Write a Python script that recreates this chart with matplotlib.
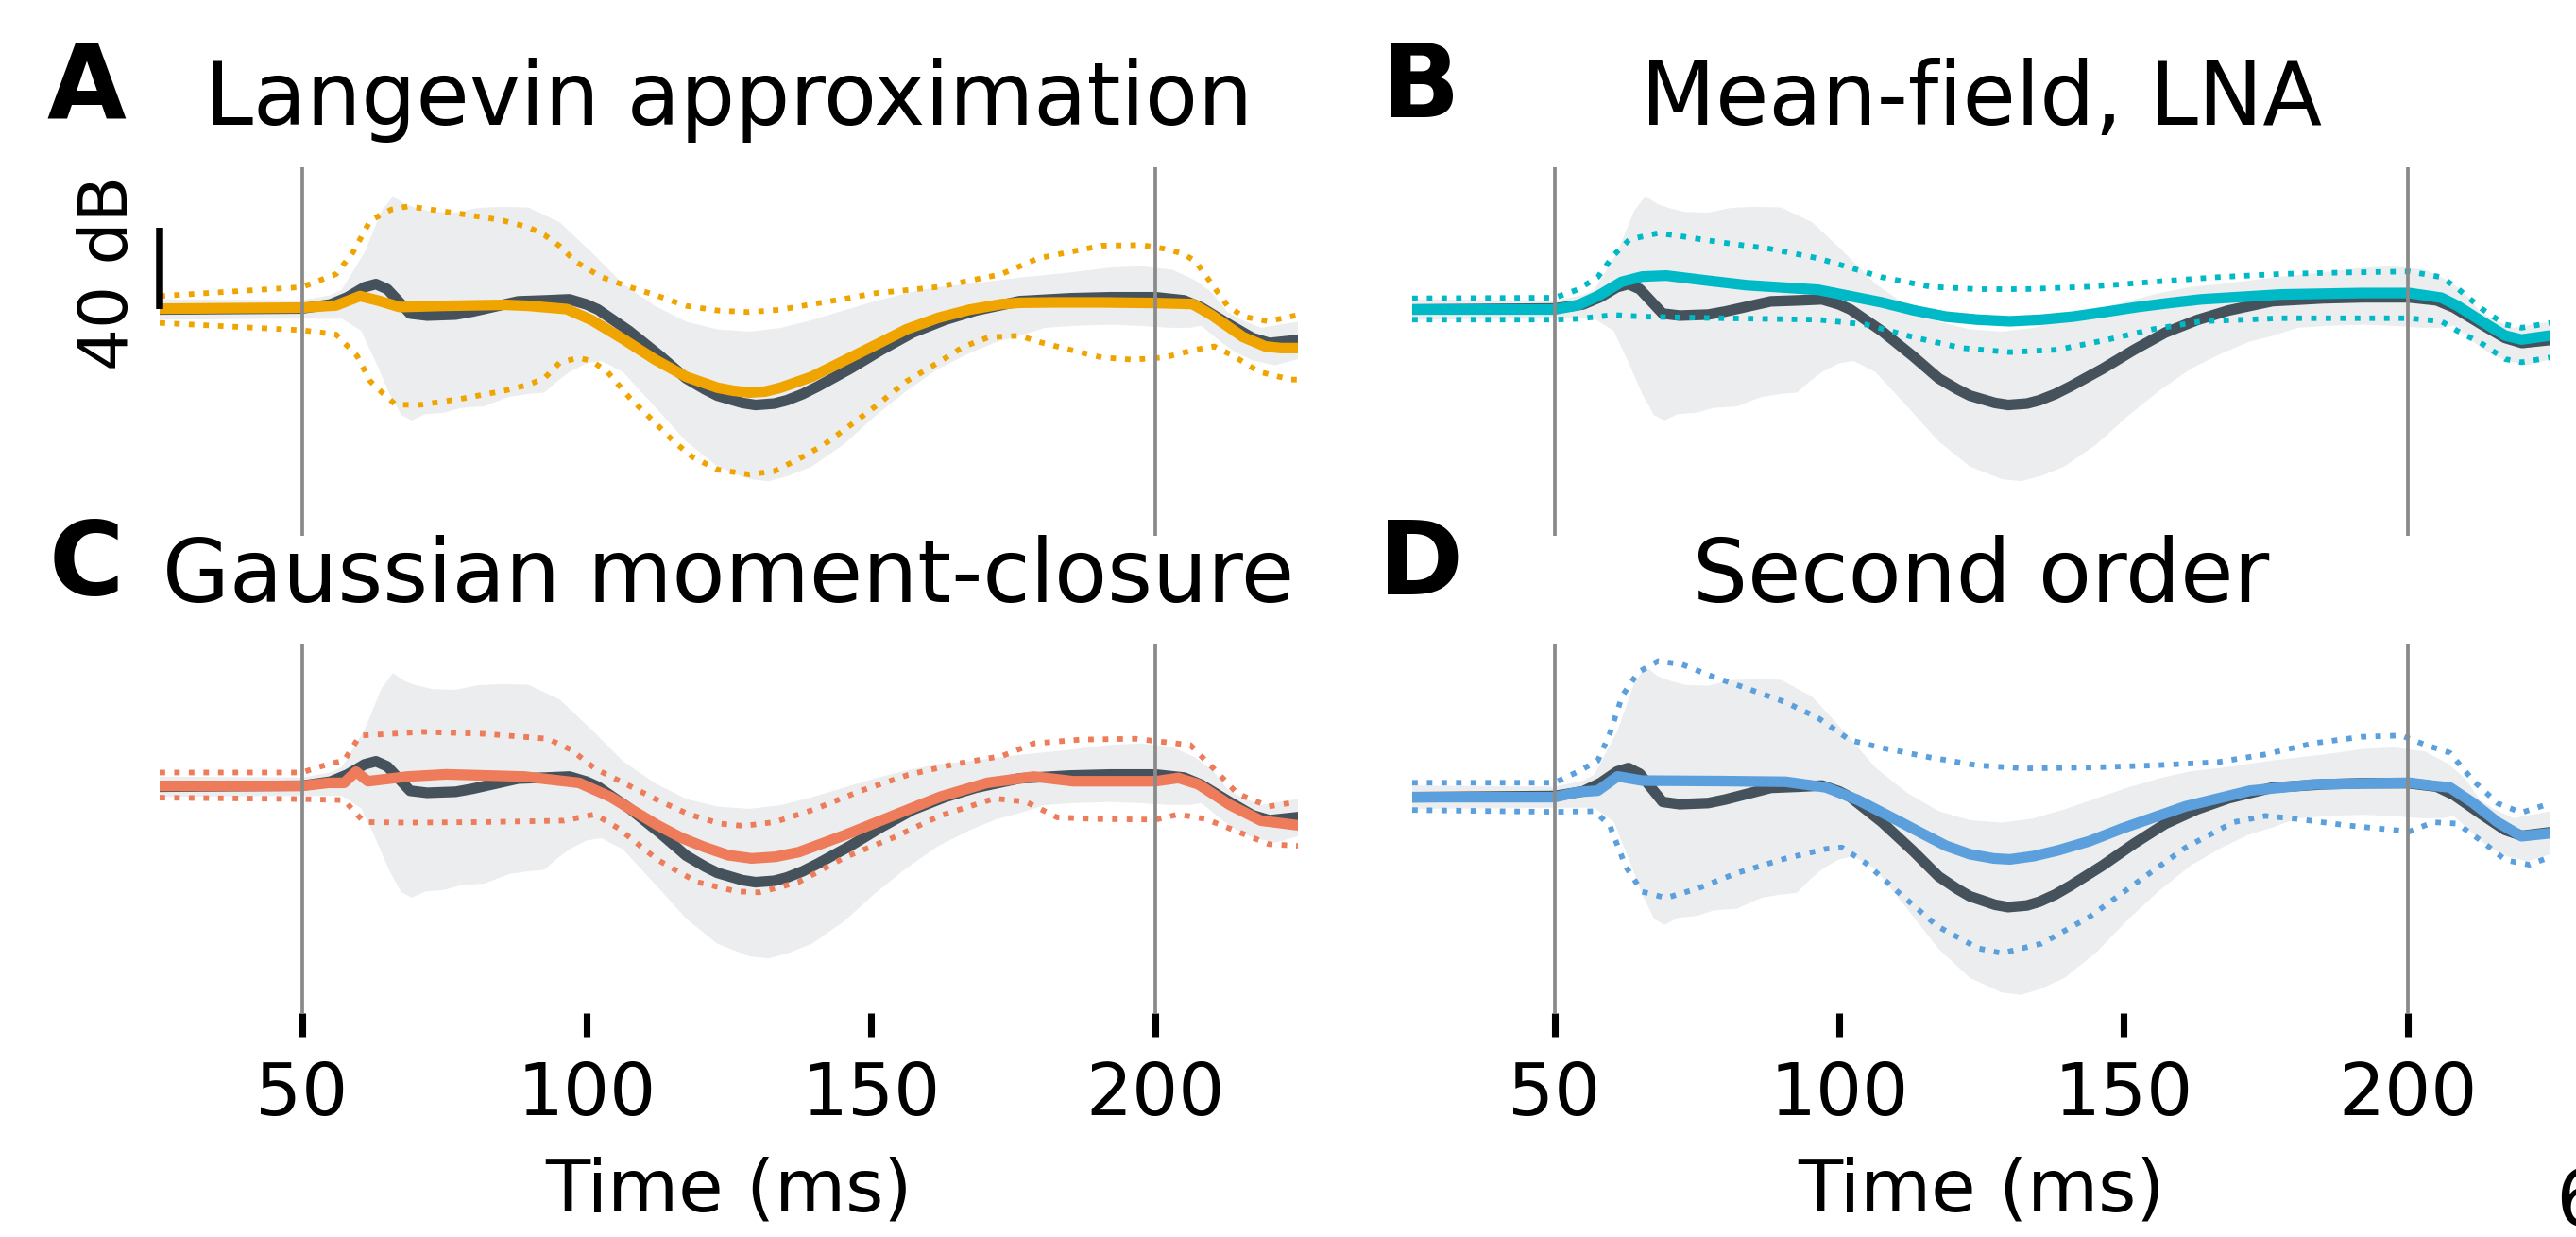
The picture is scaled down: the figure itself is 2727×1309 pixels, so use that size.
import numpy as np
import matplotlib.pyplot as plt

# time axis (ms) and dB values, relative to baseline
stim_times = [50, 200]
xticks = [50, 100, 150, 200]

# shared data: spread (grey band) and mean (dark line)
t_fill_hi = [25, 50, 55, 57, 61, 64, 66, 68, 70, 73, 77, 81, 85, 89.8, 95.3, 100.9, 106.4, 112, 117.5, 123,
             128.6, 134.1, 139.6, 145.2, 150.7, 156.2, 161.8, 167.3, 176.1, 185, 192, 197.5, 203, 207, 210,
             212.6, 215, 218.5, 225]
fill_hi = [5, 4.5, 7, 9.7, 28, 48.5, 55.9, 52, 50, 48, 47.7, 50, 50.5, 50.2, 42.9, 28.1, 12.6, 1.8, -6, -9.8,
           -10.9, -9.1, -5.2, -0.5, 4.1, 8, 11.1, 12.6, 15.7, 18.2, 20.6, 21.3, 19.5, 14.3, 8,
           -1.2, -5, -9, -6]
t_fill_lo = [25, 50, 57, 60.4, 63, 65.4, 67.5, 69.3, 71.7, 75, 78, 82, 86.4, 89.8, 92.6, 95, 97, 100, 102.6,
             106.4, 112, 117.5, 123, 128.6, 132, 135.6, 139.6, 145.2, 150.7, 156.2, 161.8, 167.3, 172, 176.1,
             180.6, 186, 192, 197.5, 202.4, 206, 208, 211.5, 214, 217, 221, 225]
fill_lo = [-5, -4.5, -4.5, -10.5, -26, -41.5, -52, -54.6, -51.5, -50.8, -48.4, -47.7, -43, -41.6, -40.9, -35,
           -30.8, -26.5, -25.3, -30.8, -47.8, -64.9, -77.3, -83.5, -84.5, -81.8, -77.3, -66.4, -52.5, -40.1,
           -29.2, -21.5, -16, -13, -9, -8, -7.5, -8.1, -9, -9, -8, -16, -21, -25, -27.5, -24.4]

t_data = [25, 50, 55, 58, 61, 63, 65, 67, 69, 72, 77, 80, 84, 88, 93, 97, 100, 102, 107.5, 113, 117.5, 120.8,
          123, 127.4, 129.7, 133, 135.2, 138, 140.7, 146.3, 151.8, 157.3, 162.9, 168.4, 176.1, 185, 192, 200,
          205, 208, 213, 217, 220, 225]
data_mean = [0, 0.5, 2.5, 6, 11, 12.5, 10, 4, -2, -3, -2.5, -1, 1.5, 4, 4.5, 5, 2.5, 0, -10.6, -23, -33.9,
             -39.3, -42.4, -46, -47, -46.3, -44.7, -41.6, -37.8, -29.2, -19.9, -11.4, -5.2, -0.5, 4.1, 5.5, 6,
             6, 4.5, 1, -7.5, -14, -16.5, -15]

# A: Langevin approximation
t_lang = [25, 50, 56, 60.2, 63.5, 67.2, 75, 85.7, 89.8, 96.5, 100.9, 106.4, 112, 117.5, 123, 125.8, 128.6,
          131.4, 134.1, 139.6, 145.2, 150.7, 156.2, 161.8, 167.3, 172.8, 176.1, 182.2, 190.5, 199.9, 206.5,
          209.8, 215.4, 219.3, 222, 225]
lang_mean = [0.4, 0.9, 2, 6.6, 4.3, 1.2, 1.8, 2.3, 1.8, 0.2, -5.2, -14.5, -24.6, -33.1, -38.5, -40, -40.9,
             -40.4, -38.5, -33.1, -25.3, -17.6, -9.8, -4.1, -0.1, 2.6, 3.3, 3.5, 3.5, 3.2, 2.7,
             -2.7, -13.6, -18.2, -19, -19]
t_lang_hi = [25, 50, 56, 59, 62, 65.7, 68.7, 78.3, 85, 89.8, 92.6, 95.3, 98.1, 102.6, 107.5, 112, 117.5, 123,
             128.6, 134.1, 139.6, 145.2, 150.7, 156.2, 161.8, 167.3, 172.8, 179.4, 184.9, 190.5, 197.6, 201.5,
             204.8, 207, 209.8, 212.6, 215.4, 219.8, 225]
lang_hi = [6.6, 11, 17.4, 28.3, 43.8, 49.2, 50.8, 46.9, 44, 40.5, 36.7, 31.2, 23.5, 16, 11.1, 7.2, 1.8, -0.5,
           -1.3, -0.1, 2.6, 5.2, 8, 9.5, 11.1, 14.2, 17.3, 25.2, 28.3, 31.4, 31.7, 29.9,
           27.5, 23.7, 12.8, 1.9, -3.5, -5.8, -2.7]
t_lang_lo = [25, 50, 56, 59.7, 62, 64.3, 66.5, 70.9, 78.3, 85.7, 89.8, 92.6, 95.3, 98.6, 100.9, 103.7, 107.5,
             112, 115.3, 118.6, 123, 128.6, 133, 137.4, 141.8, 146.3, 150.7, 156.2, 161.8, 166.2, 170.6, 176.1,
             179.4, 184.9, 190.5, 196, 201.5, 207, 210.3, 213.7, 218.1, 223.7, 225]
lang_lo = [-6.6, -10.2, -12.3, -22.9, -35.3, -41.5, -46.9, -46.9, -43.8, -39.9, -37, -33.9, -26.1, -23.8, -25.3,
           -30.8, -43.2, -55.6, -64.9, -72.6, -78.8, -81.2, -79.6, -73.4, -66.4, -57.1, -47.8, -35.4, -26.1,
           -18.4, -13.7, -12.9, -15.9, -19.8, -23.6, -24.7, -23.6, -19.8, -18.2, -22.9, -30.6, -34.5, -34.5]

# B: Mean-field, LNA
t_lna = [25, 50, 54, 57.6, 61.8, 65.4, 69.6, 76.6, 83.6, 96.3, 101.9, 107.5, 113.1, 118.7, 124.3, 130, 135.6,
         141.2, 146.8, 152.4, 158, 163.7, 177.7, 191.8, 200.2, 205.8, 208.6, 212.9, 217, 219.9, 225]
lna_mean = [0, 0, 2, 6.6, 13.6, 16.2, 16.7, 14.3, 12, 9.7, 6.6, 3.5, -0.4, -3.5, -5, -5.8, -5, -3.5, -1.2,
            1.2, 3.2, 5, 7.4, 8.1, 8.1, 5.8, 1.9, -5.8, -12.8, -14.8, -12.8]
t_lna_hi = [25, 50, 54, 57.6, 60.4, 63.2, 68.2, 72.4, 79.4, 87.8, 96.3, 101.9, 107.5, 116, 124.3, 132.8, 144,
            155.2, 166.5, 177.7, 189, 200.2, 205.8, 208.6, 212.9, 217, 219.9, 225]
lna_hi = [5.5, 5.8, 9.7, 15.9, 26.7, 34.5, 37.6, 36, 33, 29.9, 25.2, 20.6, 15.9, 11.2, 10, 10, 11.2, 13.6, 15.9,
          17.5, 18.2, 18.7, 15.9, 10.5, 0.4, -7.4, -9, -6.6]
t_lna_lo = [25, 50, 54, 60.4, 65.4, 79.4, 96.3, 104.7, 113, 121.6, 130, 138.4, 146.8, 155.2, 163.7, 177.7,
            200.2, 205.8, 208.6, 212.9, 217, 219.9, 225]
lna_lo = [-5, -5, -4.6, -2.7, -3.5, -4.3, -5, -7.4, -13.6, -19, -21, -19.8, -15.1, -9.7, -5.8, -4.3, -4.3,
          -5.8, -10.5, -16.7, -24.4, -26, -23.6]

# C: Gaussian moment-closure
t_gmc = [25, 50, 54.7, 57.4, 59.5, 61.6, 68.5, 75.3, 89.1, 98.7, 104.2, 112.5, 116.7, 120.8, 124.9, 129, 133.2,
         137.3, 145.6, 153.8, 162.1, 170.4, 178.6, 185.5, 200, 204, 207.5, 213, 218.5, 225]
gmc_mean = [0.4, 0.4, 1.9, 1.9, 7.4, 2.7, 5, 6.1, 5, 1.9, -5, -19, -25.2, -29.8, -33.7, -35.3, -34.5, -32.2,
            -23.6, -14.3, -5, 1.9, 5, 2.7, 2.7, 4.3, 1.2, -8.9, -16.7, -19]
t_gmc_hi = [25, 50, 54.7, 57.4, 60.2, 65.7, 71.2, 82.2, 93.2, 97.3, 101.5, 107, 112.5, 118, 123.5, 127.6,
            133.1, 140, 148.2, 156.5, 164.8, 173, 178.6, 186.9, 196.5, 206.1, 210.2, 214.4, 219.9, 225]
gmc_hi = [7, 7, 11.2, 12.8, 25.2, 26, 27, 26, 23.6, 18.2, 8.9, 1.2, -6.6, -13.6, -18.2, -19.3, -17.4, -11.2,
          -2, 5.8, 11.2, 15.1, 21.3, 23.2, 23.6, 20.5, 8.9, -3.5, -9.7, -7.4]
t_gmc_lo = [25, 50, 57.4, 60.9, 68.5, 82.2, 96, 101.5, 105.6, 112.5, 119.4, 126.3, 130.4, 137.3, 145.6, 153.8,
            162.1, 171.7, 177.2, 182.7, 189.6, 200, 204, 208.8, 214.4, 219.9, 225]
gmc_lo = [-5.4, -6.1, -6.6, -17.4, -17.7, -17.4, -16.7, -13.6, -20.5, -36, -46.9, -51.5, -52, -46.9, -34.5,
          -25.2, -14.3, -5.8, -7.4, -15.1, -15.9, -16.2, -13.6, -15.9, -22.1, -28.3, -29.1]

# D: Second order
t_so = [25, 50, 54.1, 57.6, 61.1, 65.4, 79.4, 90.6, 97.7, 103.3, 110.3, 114.5, 118.8, 123, 127.2, 130, 134.2,
        138.4, 144, 149.7, 160.9, 172.2, 183.4, 200.2, 204.4, 207.3, 211.5, 215.7, 219.9, 225]
so_mean = [0, 0, 2.2, 2.8, 8.9, 7.1, 6.9, 6.6, 4.2, -1.2, -10, -15.4, -20.8, -24.4, -26.2, -26.6, -25.2, -22.8,
           -18.8, -13.4, -3.9, 2.8, 5.5, 6.2, 4.9, 4.2, -2.6, -10.7, -16.7, -15.4]
t_so_hi = [25, 50, 54.1, 57.6, 59.7, 61.9, 64.7, 68.2, 72.4, 78, 83.6, 90.6, 96.3, 101.9, 107.5, 116, 124.4,
           132.8, 144, 155.3, 166.5, 174.9, 183.4, 191.8, 198.8, 203, 207.3, 211.5, 215.7, 219.9, 225]
so_hi = [6.2, 6.2, 10.9, 15.6, 27.1, 43.3, 53.4, 58.2, 56.8, 51.4, 46.7, 40.6, 33.9, 24.4, 21.1, 17, 13.6, 12.3,
         12.7, 13.6, 15, 18.3, 23.1, 25.8, 26.4, 22.4, 19, 6.9, -2.6, -6.6, -2.6]
t_so_lo = [25, 50, 57, 59.7, 62.5, 65.4, 69.6, 75.2, 82.2, 90.6, 97.7, 100.5, 104.7, 110.3, 117.3, 124.4, 128.6,
           135.6, 144, 152.4, 160.9, 169.3, 174.9, 180.5, 189, 200.2, 204.4, 208.6, 212.9, 217.1, 221.3, 225]
so_lo = [-5.5, -6.3, -6, -12, -29.6, -40.4, -43.1, -39, -32.3, -26.2, -22.1, -21.5, -28.2, -40.4, -55.2, -64.6,
         -66.7, -62.6, -51.2, -36.3, -21.5, -10.7, -8, -9.3, -12, -14.7, -10.7, -11.3, -18.8, -26.9, -28.9, -25.5]

fill_color = "#ebedef"
dark = "#45525b"

W, H = 2727, 1309
fig = plt.figure(figsize=(W / 300, H / 300), dpi=300)


def add_panel(left_px, top_px, letter_x, letter, title, color, mean, hi, lo, ylim, bottom_axis):
    ax = fig.add_axes([left_px / W, 1 - (top_px + 390) / H, 1205 / W, 390 / H])
    ax.fill(np.r_[t_fill_hi, t_fill_lo[::-1]], np.r_[fill_hi, fill_lo[::-1]],
            color=fill_color, lw=0, zorder=1)
    ax.plot(t_data, data_mean, color=dark, lw=2.7, zorder=2)
    ax.plot(mean[0], mean[1], color=color, lw=2.7, zorder=3)
    ax.plot(hi[0], hi[1], ":", color=color, lw=1.4, zorder=4)
    ax.plot(lo[0], lo[1], ":", color=color, lw=1.4, zorder=4)
    for x in stim_times:
        ax.axvline(x, color="#8a8a8a", lw=0.9, zorder=5)
    ax.set_xlim(25, 225)
    ax.set_ylim(ylim)
    for s in ax.spines.values():
        s.set_visible(False)
    ax.set_yticks([])
    ax.set_title(title, fontsize=22, pad=10.8)
    if bottom_axis:
        ax.set_xticks(xticks)
        ax.tick_params(axis="x", length=6, width=1.7, pad=6, labelsize=18.5)
        ax.set_xlabel("Time (ms)", fontsize=18.5, labelpad=6.5)
    else:
        ax.set_xticks([])
    fig.text(letter_x / W, 1 - (top_px - 52.7) / H, letter,
             fontsize=26, fontweight="bold", ha="center", va="baseline")
    return ax


ylim_main = (-111.4, 70)
axA = add_panel(169, 177, 91, "A", "Langevin approximation", "#f0a400",
                (t_lang, lang_mean), (t_lang_hi, lang_hi), (t_lang_lo, lang_lo), ylim_main, False)
axB = add_panel(1495, 177, 1504, "B", "Mean-field, LNA", "#00b9c7",
                (t_lna, lna_mean), (t_lna_hi, lna_hi), (t_lna_lo, lna_lo), ylim_main, False)
axC = add_panel(169, 682, 91, "C", "Gaussian moment-closure", "#ee7b5a",
                (t_gmc, gmc_mean), (t_gmc_hi, gmc_hi), (t_gmc_lo, gmc_lo), ylim_main, True)
axD = add_panel(1495, 682, 1504, "D", "Second order", "#5ba0dd",
                (t_so, so_mean), (t_so_hi, so_hi), (t_so_lo, so_lo), (-92.3, 65.3), True)

# 40 dB scale bar
axA.plot([25, 25], [0, 40], color="black", lw=1.8, clip_on=False, zorder=6, solid_capstyle="butt")
axA.text(16.2, 18, "40 dB", rotation=90, fontsize=17, ha="center", va="center")

# page number, cut at the right edge as in the source
fig.text(2705 / W, 1 - 1297 / H, "6", fontsize=20, ha="left", va="baseline")

fig.savefig("out.png", dpi=300)
